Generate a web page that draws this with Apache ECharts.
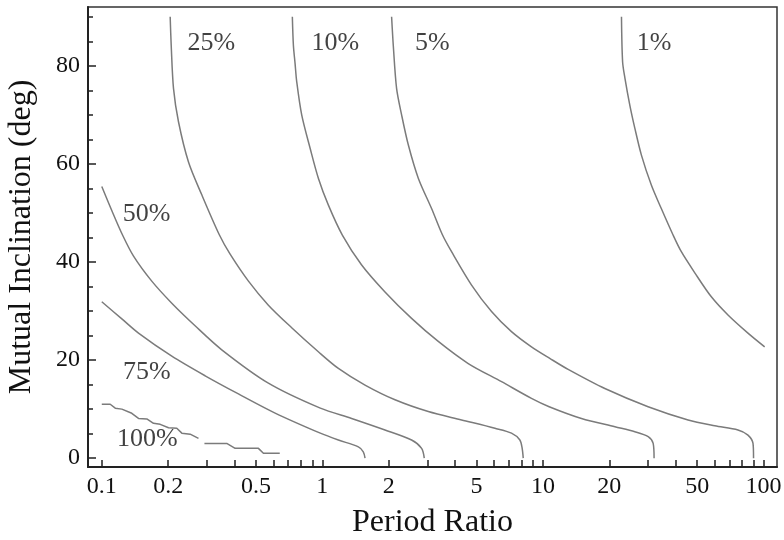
<!DOCTYPE html>
<html>
<head>
<meta charset="utf-8">
<script src="https://cdn.jsdelivr.net/npm/echarts@6/dist/echarts.min.js"></script>
<style>
  html, body { margin: 0; padding: 0; background: #fff; }
  #chart { width: 784px; height: 540px; }
</style>
</head>
<body>
<div id="chart"></div>
<script>
// contour lines: [period ratio, mutual inclination (deg)]
const c1 = [[22.7, 90.0], [22.97, 80.8], [23.53, 77.5], [24.76, 72.0], [26.09, 67.3], [27.95, 61.8],
  [31.0, 55.7], [34.4, 50.9], [38.9, 45.5], [42.4, 42.1], [48.8, 37.8], [58.0, 32.9],
  [69.0, 29.2], [85.0, 25.5], [101.2, 22.7]];
const c5 = [[2.06, 90.0], [2.097, 84.1], [2.17, 75.4], [2.287, 70.0], [2.452, 63.9], [2.722, 57.1],
  [3.127, 50.9], [3.497, 45.6], [3.852, 42.1], [4.747, 35.3], [5.847, 29.9], [7.2, 25.8],
  [8.87, 22.7], [10.78, 20.3], [13.01, 18.1], [19.08, 14.2], [29.97, 10.5], [45.5, 7.8],
  [60.1, 6.6], [76.6, 5.75], [85.0, 4.7], [89.6, 3.0], [90.1, 0.0]];
const c10 = [[0.731, 90.0], [0.739, 84.2], [0.752, 80.5], [0.765, 76.8], [0.806, 70.0], [0.88, 63.2],
  [0.959, 57.1], [1.065, 51.6], [1.232, 45.5], [1.507, 39.4], [1.923, 33.9], [2.538, 28.5],
  [3.353, 23.8], [4.585, 19.3], [6.49, 15.6], [8.87, 12.2], [10.67, 10.5], [14.95, 8.1],
  [21.2, 6.4], [26.1, 5.4], [30.0, 4.4], [31.6, 3.0], [31.9, 0.0]];
const c25 = [[0.2042, 90.0], [0.2064, 84.2], [0.2114, 75.4], [0.2227, 68.6], [0.2472, 60.4],
  [0.284, 53.7], [0.3415, 45.5], [0.3818, 41.6], [0.4623, 36.1], [0.5692, 31.2], [0.726, 26.6],
  [0.959, 21.7], [1.182, 18.3], [1.561, 14.9], [2.135, 11.9], [3.021, 9.5], [4.276, 7.8],
  [6.058, 6.1], [7.2, 5.1], [7.86, 3.7], [8.05, 2.0], [8.14, 0.0]];
const c50 = [[0.1, 55.4], [0.111, 50.5], [0.1242, 45.5], [0.1393, 41.2], [0.1685, 36.1], [0.2077, 31.6],
  [0.2648, 27.0], [0.3499, 22.1], [0.5692, 15.3], [0.979, 10.2], [1.357, 8.1], [1.923, 5.75],
  [2.538, 3.7], [2.818, 2.0], [2.897, 0.0]];
const c75 = [[0.1, 31.9], [0.1233, 28.4], [0.1467, 25.5], [0.2077, 20.8], [0.2942, 16.8], [0.4164, 13.1],
  [0.6106, 9.2], [0.979, 5.1], [1.182, 3.7], [1.456, 2.3], [1.533, 1.3], [1.561, 0.0]];
const c100a = [[0.1, 11.0], [0.1092, 11.0], [0.1151, 10.2], [0.1233, 10.0], [0.1368, 9.15], [0.1467, 8.1],
  [0.16, 8.0], [0.1716, 7.1], [0.184, 6.9], [0.2007, 6.2], [0.2188, 6.1], [0.2306, 5.1],
  [0.2516, 4.9], [0.2744, 4.05]];
const c100b = [[0.292, 3.0], [0.3685, 3.0], [0.4024, 2.0], [0.513, 2.0], [0.5404, 1.0], [0.641, 1.0]];

const contourNames = ['1%', '5%', '10%', '25%', '50%', '75%', '100%'];
const labelRatio = [31.9, 3.15, 1.145, 0.314, 0.1595, 0.16, 0.161];
const labelDeg = [84.6, 84.6, 84.6, 84.6, 49.8, 17.6, 3.9];

const xLabelValues = [0.1, 0.2, 0.5, 1, 2, 5, 10, 20, 50, 100];
const xTickValues = [0.1, 0.2, 0.3, 0.4, 0.5, 0.6, 0.7, 0.8, 0.9, 1, 2, 3, 4, 5, 6, 7, 8, 9,
  10, 20, 30, 40, 50, 60, 70, 80, 90, 100];
const yLabelValues = [0, 20, 40, 60, 80];
const yMinorValues = [5, 10, 15, 25, 30, 35, 45, 50, 55, 65, 70, 75, 85, 90];

const lg = (v) => Math.log10(v);
const toXY = (arr) => arr.map((p) => [lg(p[0]), p[1]]);

const serif = 'Liberation Serif';
const lineColor = '#7b7b7b';
const inkColor = '#111';

const chart = echarts.init(document.getElementById('chart'));

const lineSeries = (data, smooth) => ({
  type: 'line',
  data: toXY(data),
  showSymbol: false,
  smooth: smooth,
  lineStyle: { color: lineColor, width: 1.5 },
  silent: true,
});

chart.setOption({
  animation: false,
  grid: {
    left: 88, right: 7, top: 7, bottom: 73,
    outerBoundsMode: 'none',
    containLabel: false,
    show: true, borderColor: '#333', borderWidth: 1.5,
  },
  xAxis: {
    type: 'value',
    min: lg(0.0866),
    max: lg(115.1),
    name: 'Period Ratio',
    nameLocation: 'middle',
    nameGap: 40,
    nameTextStyle: { fontFamily: serif, fontSize: 32, color: inkColor },
    axisLine: { onZero: false, lineStyle: { color: '#222', width: 2 } },
    splitLine: { show: false },
    axisTick: {
      inside: true, length: 7,
      customValues: xTickValues.map(lg),
      lineStyle: { color: '#222', width: 1.5 },
    },
    axisLabel: {
      customValues: xLabelValues.map(lg),
      formatter: (v) => String(parseFloat(Math.pow(10, v).toPrecision(3))),
      fontFamily: serif, fontSize: 24, color: inkColor, margin: 8,
    },
  },
  yAxis: [
    {
      type: 'value',
      min: -1.8,
      max: 92,
      name: 'Mutual Inclination (deg)',
      nameLocation: 'middle',
      nameGap: 50,
      nameTextStyle: { fontFamily: serif, fontSize: 32, color: inkColor },
      axisLine: { show: true, onZero: false, lineStyle: { color: '#222', width: 2 } },
      splitLine: { show: false },
      axisTick: {
        inside: true, length: 8,
        customValues: yLabelValues,
        lineStyle: { color: '#222', width: 1.5 },
      },
      axisLabel: {
        customValues: yLabelValues,
        fontFamily: serif, fontSize: 24, color: inkColor, margin: 8,
      },
    },
    {
      type: 'value',
      min: -1.8,
      max: 92,
      position: 'left',
      axisLine: { show: false, onZero: false },
      splitLine: { show: false },
      axisTick: {
        inside: true, length: 5,
        customValues: yMinorValues,
        lineStyle: { color: '#222', width: 1.5 },
      },
      axisLabel: { show: false },
    },
  ],
  series: [
    lineSeries(c1, 0.3),
    lineSeries(c5, 0.3),
    lineSeries(c10, 0.3),
    lineSeries(c25, 0.3),
    lineSeries(c50, 0.3),
    lineSeries(c75, 0.3),
    lineSeries(c100a, false),
    lineSeries(c100b, false),
    {
      type: 'scatter',
      symbolSize: 0,
      silent: true,
      data: contourNames.map((n, i) => ({ name: n, value: [lg(labelRatio[i]), labelDeg[i]] })),
      label: {
        show: true,
        position: 'inside',
        formatter: '{b}',
        fontFamily: serif,
        fontSize: 26,
        color: inkColor,
      },
    },
  ],
});
</script>
</body>
</html>
